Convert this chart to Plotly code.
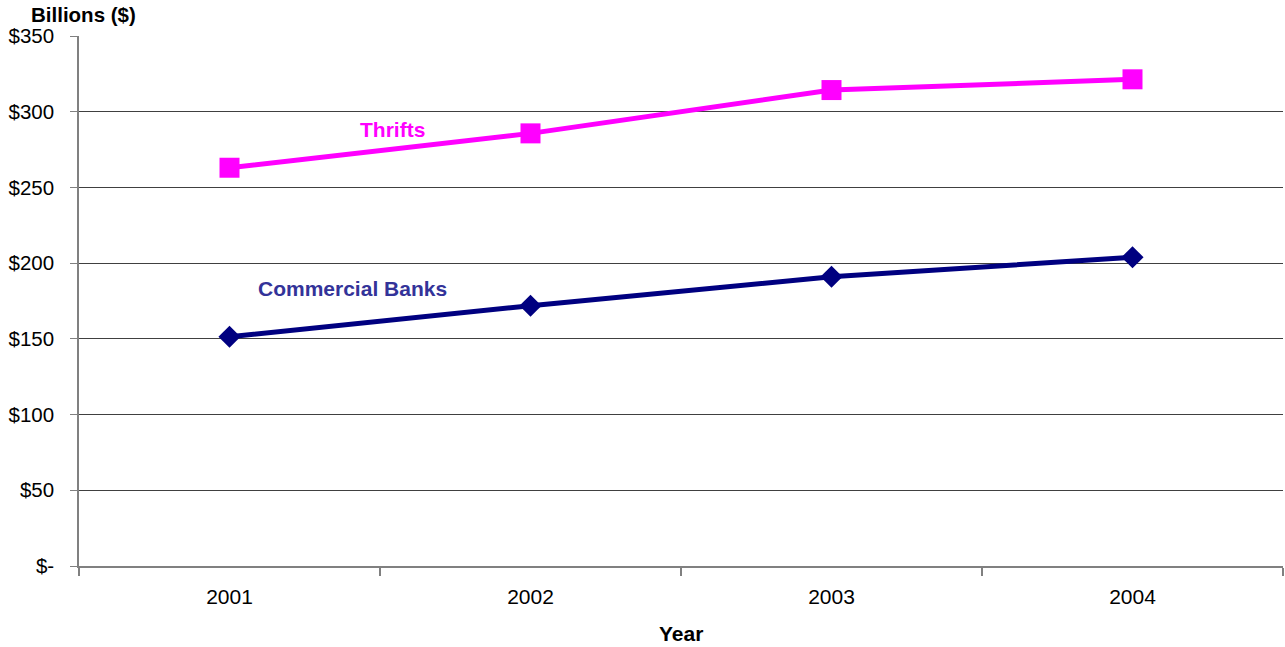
import plotly.graph_objects as go

# Values in billions of dollars
years = ["2001", "2002", "2003", "2004"]
thrifts = [263.0, 285.7, 314.3, 321.4]
commercial_banks = [151.4, 171.9, 191.0, 203.9]

y_tick_values = [0, 50, 100, 150, 200, 250, 300, 350]
y_tick_labels = ["$-", "$50", "$100", "$150", "$200", "$250", "$300", "$350"]

FONT = "Liberation Sans, Arial, sans-serif"

fig = go.Figure()

fig.add_trace(go.Scatter(
    x=years, y=thrifts, mode="lines+markers", name="Thrifts",
    line=dict(color="#FF00FF", width=5),
    marker=dict(symbol="square", size=20, color="#FF00FF"),
    cliponaxis=False,
))
fig.add_trace(go.Scatter(
    x=years, y=commercial_banks, mode="lines+markers", name="Commercial Banks",
    line=dict(color="#000080", width=5),
    marker=dict(symbol="diamond", size=17, color="#000080"),
    cliponaxis=False,
))

fig.update_layout(
    width=1285, height=647,
    margin=dict(l=79, r=2, t=36, b=81),
    paper_bgcolor="white", plot_bgcolor="white",
    showlegend=False,
    font=dict(family=FONT, size=21, color="black"),
    xaxis=dict(
        type="category",
        range=[-0.5, 3.5],
        tickson="boundaries",
        ticks="outside", ticklen=8, tickcolor="#808080", tickwidth=1.5,
        showline=True, linecolor="#808080", linewidth=1.5,
        showgrid=False,
        ticklabelstandoff=11,
        tickfont=dict(size=21),
    ),
    yaxis=dict(
        range=[0, 350],
        tickvals=y_tick_values, ticktext=y_tick_labels,
        ticks="outside", ticklen=7, tickcolor="#808080", tickwidth=1,
        showline=True, linecolor="#808080", linewidth=1.5,
        showgrid=True, gridcolor="#404040", gridwidth=1,
        zeroline=False,
        ticklabelstandoff=12,
        tickfont=dict(size=20.5),
    ),
    annotations=[
        dict(text="<b>Billions ($)</b>", xref="paper", yref="paper",
             x=-79 / 1204 + 29 / 1204, y=1.0, yshift=22, xanchor="left", yanchor="middle",
             showarrow=False, font=dict(size=20.5, color="black")),
        dict(text="<b>Year</b>", xref="paper", yref="paper",
             x=0.5, y=0, yshift=-67, xanchor="center", yanchor="middle",
             showarrow=False, font=dict(size=21, color="black")),
        dict(text="<b>Thrifts</b>", x=0.54, y=288, xref="x", yref="y",
             xanchor="center", yanchor="middle", showarrow=False,
             font=dict(size=21, color="#FF00FF")),
        dict(text="<b>Commercial Banks</b>", x=0.41, y=183, xref="x", yref="y",
             xanchor="center", yanchor="middle", showarrow=False,
             font=dict(size=21, color="#333399")),
    ],
)

fig.write_html("out.html")
